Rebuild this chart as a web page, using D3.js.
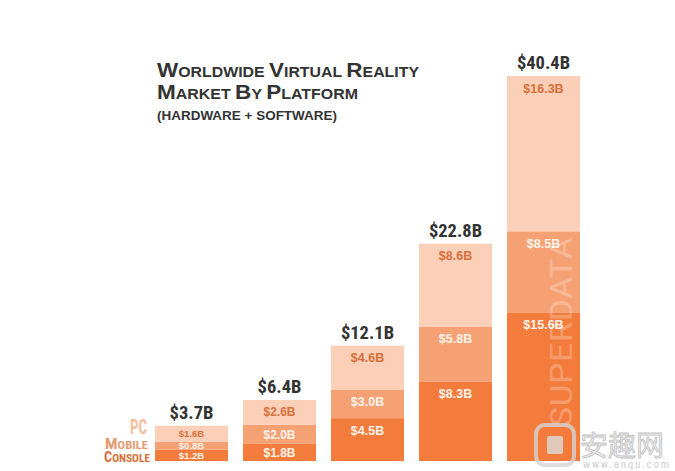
<!DOCTYPE html>
<html><head><meta charset="utf-8">
<script src="https://cdn.jsdelivr.net/npm/d3@7"></script>
<style>
html,body{margin:0;padding:0;background:#fff;}
svg{display:block;}
text{font-family:"Liberation Sans Narrow","Arial Narrow","Roboto Condensed","Liberation Sans",sans-serif;font-weight:bold;}
text.reg{font-family:"Liberation Sans",Arial,sans-serif;}
</style></head>
<body>
<svg id="chart" width="675" height="471"></svg>
<script>
const years = ["2016", "2017", "2018", "2019", "2020"];
const consoleVals = [1.2, 1.8, 4.5, 8.3, 15.6];
const mobileVals = [0.8, 2.0, 3.0, 5.8, 8.5];
const pcVals = [1.6, 2.6, 4.6, 8.6, 16.3];
const totals = [3.7, 6.4, 12.1, 22.8, 40.4];
const seriesNames = ["Console", "Mobile", "PC"];
const colors = {Console: "#f37b3b", Mobile: "#f6a173", PC: "#fbcfb8"};
const labelColors = {Console: "#fff3ea", Mobile: "#fff3ea", PC: "#d9703a"};

const svg = d3.select("#chart");
const x = d3.scaleBand().domain(years).range([155, 580]).paddingInner(15/88).paddingOuter(0);
const y = d3.scaleLinear().domain([0, 40.4]).range([461, 76]);

const rows = years.map((yr, i) => ({year: yr, Console: consoleVals[i], Mobile: mobileVals[i], PC: pcVals[i], total: totals[i]}));
const stack = d3.stack().keys(seriesNames)(rows);

const g = svg.append("g");
stack.forEach(layer => {
  const key = layer.key;
  g.selectAll(null).data(layer).join("rect")
    .attr("x", d => x(d.data.year))
    .attr("width", x.bandwidth())
    .attr("y", d => y(key === "PC" ? d.data.total : d[1]))
    .attr("height", d => y(d[0]) - y(key === "PC" ? d.data.total : d[1]))
    .attr("fill", colors[key]);
});

// watermark SUPERDATA in last bar
svg.append("text")
  .attr("transform", `translate(${x("2020") + x.bandwidth() - 8},${y(0) - 34}) rotate(-90)`)
  .attr("font-size", 31)
  .style("font-weight", "normal")
  .attr("textLength", 190).attr("lengthAdjust", "spacingAndGlyphs")
  .attr("fill", "#ffffff").attr("fill-opacity", 0.25)
  .text("SUPERDATA");

// segment labels
stack.forEach(layer => {
  const key = layer.key;
  g.selectAll(null).data(layer).join("text")
    .attr("class", "reg")
    .attr("x", d => x(d.data.year) + x.bandwidth()/2)
    .attr("y", d => {
      const top = y(key === "PC" ? d.data.total : d[1]);
      const bot = y(d[0]);
      return Math.min(top + 12, (top + bot)/2);
    })
    .attr("dy", "0.36em")
    .attr("text-anchor", "middle")
    .attr("font-size", d => d.data.total < 5 ? 9.5 : (d.data.total < 10 ? 12 : 12.5))
    .attr("fill", labelColors[key])
    .text(d => "$" + d.data[key].toFixed(1) + "B");
});

// totals
svg.selectAll(".tot").data(rows).join("text")
  .attr("class", "tot")
  .attr("x", d => x(d.year) + x.bandwidth()/2)
  .attr("y", d => y(d.total) - 7)
  .attr("text-anchor", "middle")
  .attr("font-size", 18.5)
  .attr("fill", "#333333")
  .text(d => "$" + d.total.toFixed(1) + "B");

// year labels (cut by bottom edge)
svg.selectAll(".yr").data(years).join("text")
  .attr("class", "yr")
  .attr("x", d => x(d) + x.bandwidth()/2)
  .attr("y", 480)
  .attr("text-anchor", "middle")
  .attr("font-size", 13)
  .attr("fill", "#b0b0b0")
  .text(d => d);

// title with small caps
function smallCaps(sel, str, big, small) {
  const words = str.split(" ");
  words.forEach((w, i) => {
    sel.append("tspan").attr("font-size", big).text(w[0]);
    sel.append("tspan").attr("font-size", small).text(w.slice(1) + (i < words.length - 1 ? " " : ""));
  });
}
const t1 = svg.append("text").attr("class", "reg").attr("x", 157).attr("y", 77).attr("fill", "#333")
  .attr("textLength", 262).attr("lengthAdjust", "spacingAndGlyphs");
smallCaps(t1, "Worldwide Virtual Reality".toUpperCase(), 20.5, 14.5);
const t2 = svg.append("text").attr("class", "reg").attr("x", 157).attr("y", 98.5).attr("fill", "#333")
  .attr("textLength", 201).attr("lengthAdjust", "spacingAndGlyphs");
smallCaps(t2, "Market by Platform".toUpperCase(), 20.5, 14.5);
svg.append("text").attr("class", "reg").attr("x", 157).attr("y", 119.5).attr("fill", "#333")
  .attr("font-size", 13).attr("textLength", 180).attr("lengthAdjust", "spacingAndGlyphs")
  .text("(HARDWARE + SOFTWARE)");

// legend
const legend = [
  {name: "PC", color: "#f4c0a0", y: 434, big: 19.5, small: 19.5, w: 17, r: 147},
  {name: "MOBILE", color: "#e59c72", y: 449, big: 15, small: 11.5, w: 43, r: 148},
  {name: "CONSOLE", color: "#d86f36", y: 462, big: 14.5, small: 11.5, w: 46, r: 150}
];
legend.forEach(l => {
  const t = svg.append("text").attr("x", l.r - l.w).attr("y", l.y).attr("fill", l.color)
    .attr("textLength", l.w).attr("lengthAdjust", "spacingAndGlyphs");
  t.append("tspan").attr("font-size", l.big).text(l.name[0]);
  t.append("tspan").attr("font-size", l.small).text(l.name.slice(1));
});

// site watermark (bottom right)
const wm = svg.append("g").attr("opacity", 0.8);
wm.append("rect").attr("x", 536).attr("y", 425).attr("width", 38).attr("height", 40).attr("rx", 9)
  .attr("fill", "none").attr("stroke", "#d5d5d5").attr("stroke-width", 4);
wm.append("rect").attr("x", 547).attr("y", 436).attr("width", 16).attr("height", 18).attr("rx", 2)
  .attr("fill", "#dcdcdc");
wm.append("text").attr("x", 580).attr("y", 456).attr("font-size", 28).style("font-family", "'Noto Sans CJK SC',sans-serif")
  .style("font-weight", "normal")
  .attr("fill", "#e4e4e4").attr("stroke", "#b5b5b5").attr("stroke-width", 0.8).text("安趣网");
wm.append("text").attr("x", 583).attr("y", 468).attr("font-size", 11).style("font-weight", "normal")
  .attr("textLength", 86).attr("fill", "#c4c4c4").text("www.anqu.com");
</script>
</body></html>
